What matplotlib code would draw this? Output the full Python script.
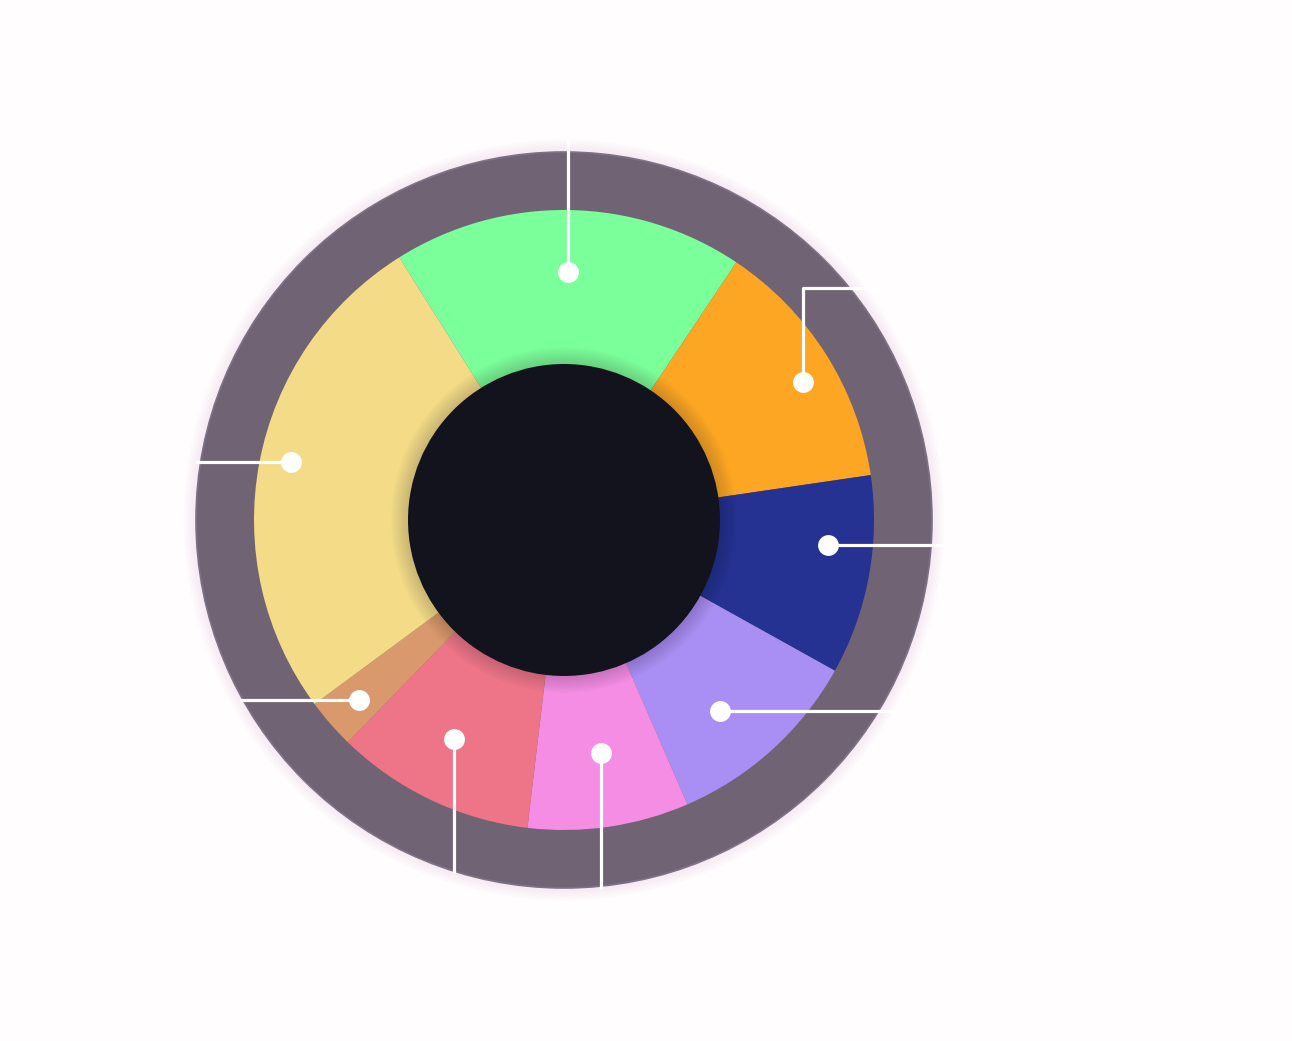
import numpy as np
import matplotlib
matplotlib.use("Agg")
import matplotlib.pyplot as plt
from matplotlib.patches import Circle

# ---- data ----
categories = ["Green", "Orange", "Navy", "Purple", "Pink", "Red", "Tan", "Yellow"]
values = [18.3, 13.3, 10.4, 10.4, 8.4, 10.4, 2.6, 26.2]
colors = ["#7bff9b", "#fda624", "#253291", "#a98ff3", "#f48de3", "#ee7587", "#d9996c", "#f3db87"]

# ---- layout (label anchors) ----
dot_radius = [0.80, 0.89, 0.855, 0.795, 0.76, 0.79, 0.88, 0.90]
dot_angle_offset = [0.0, -2.3, 4.9, -3.0, 0.7, -1.3, 0.3, -1.2]
# leader direction and end coordinate
leader = [("up", 1.23), ("upright", (0.75, 1.10)), ("right", 1.23), ("right", 1.09),
          ("down", -1.19), ("down", -1.14), ("left", -1.045), ("left", -1.19)]

W, H = 1292, 1041
CX, CY, R = 564, 520, 310.0
fig = plt.figure(figsize=(W / 100, H / 100), dpi=100, facecolor="#fffdfd")
ax = fig.add_axes([0, 0, 1, 1])
ax.set_facecolor("#fffdfd")

# pink glow around outer ring
RO = 368 / R
for i in range(10):
    ax.add_patch(Circle((0, 0), RO + 0.004 * (i + 1), facecolor="#f8c8ec",
                        alpha=0.04, edgecolor="none", zorder=1))
ax.add_patch(Circle((0, 0), RO, facecolor="#706474", edgecolor="#7b7385", lw=1.2, zorder=2))

start = 122.1
wedges, _ = ax.pie(values, colors=colors, startangle=start, counterclock=False,
                   radius=1.0, wedgeprops=dict(width=1.0, linewidth=0), center=(0, 0))
for w in wedges:
    w.set_zorder(3)

# soft shadow of inner disk
RI = 156 / R
for i in range(9):
    ax.add_patch(Circle((0, 0), RI + 0.006 * (i + 1), facecolor="#1a1020",
                        alpha=0.018, edgecolor="none", zorder=4))
ax.add_patch(Circle((0, 0), RI, facecolor="#13131d", edgecolor="none", zorder=5))

# leader lines and dots
cum = np.cumsum([0] + values)
total = sum(values)
for i, v in enumerate(values):
    mid = start - 360 * (cum[i] + v / 2) / total + dot_angle_offset[i]
    a = np.deg2rad(mid)
    x0, y0 = dot_radius[i] * np.cos(a), dot_radius[i] * np.sin(a)
    kind, end = leader[i]
    if kind in ("up", "down"):
        xs, ys = [x0, x0], [y0, end]
    elif kind in ("left", "right"):
        xs, ys = [x0, end], [y0, y0]
    else:
        xs, ys = [x0, x0, end[1]], [y0, end[0], end[0]]
    ax.plot(xs, ys, color="white", lw=2.3, zorder=6, solid_capstyle="butt")
    ax.plot([x0], [y0], "o", color="white", markersize=15, markeredgewidth=0, zorder=7)

ax.set_xlim(-CX / R, (W - CX) / R)
ax.set_ylim(-(H - CY) / R, CY / R)
ax.set_aspect("equal")
ax.axis("off")
fig.savefig("out.png", dpi=100, facecolor=fig.get_facecolor())
